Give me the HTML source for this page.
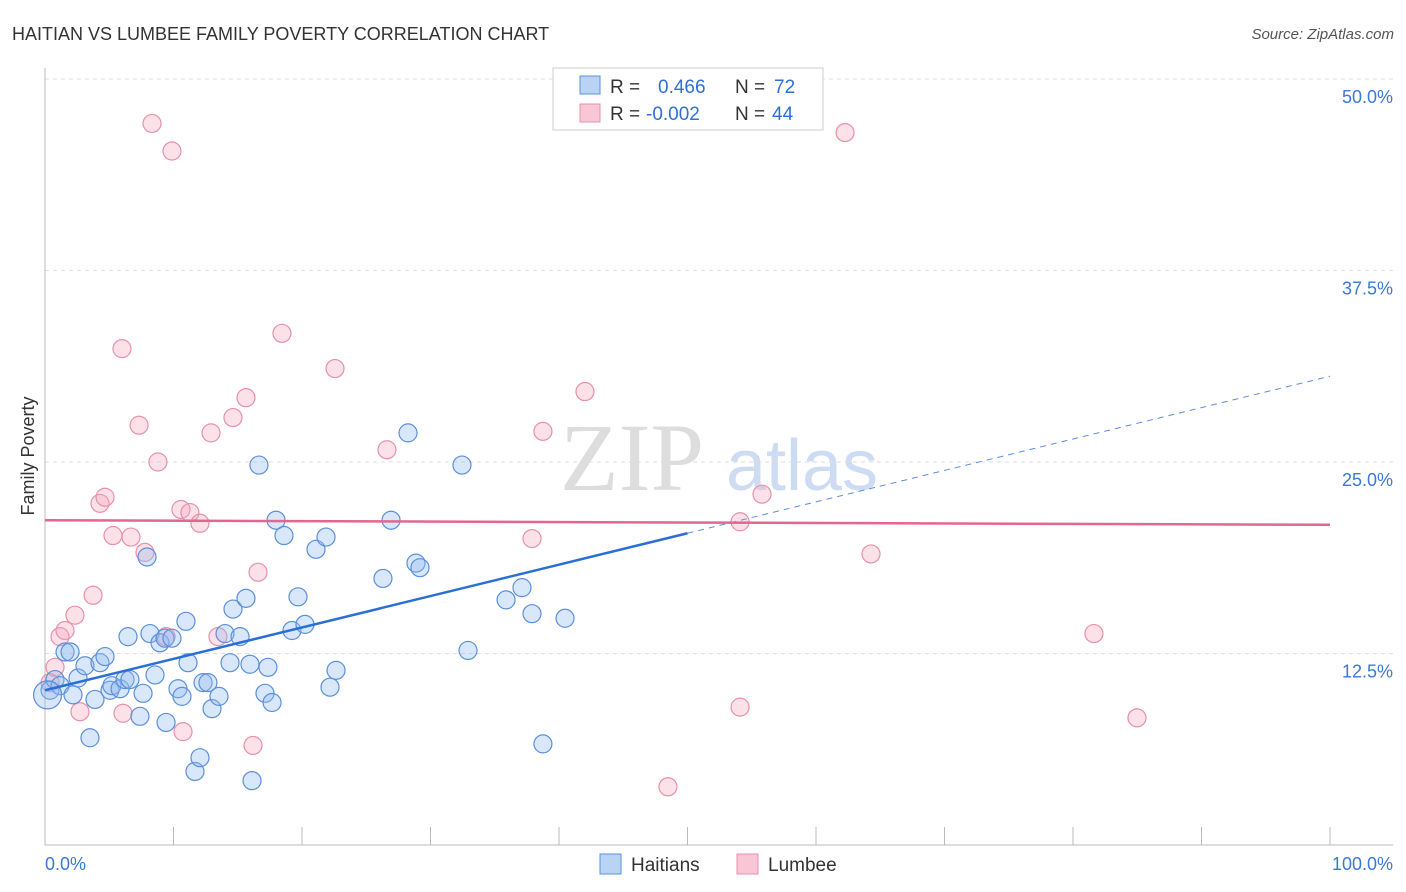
<!DOCTYPE html>
<html><head><meta charset="utf-8">
<style>
body{margin:0;background:#fff;font-family:"Liberation Sans",sans-serif;}
svg{display:block}
</style></head>
<body>
<svg id="chart" width="1406" height="892">
<text x="12" y="40" font-size="18" fill="#333">HAITIAN VS LUMBEE FAMILY POVERTY CORRELATION CHART</text>
<text x="1394" y="39" font-size="15" fill="#555" font-style="italic" text-anchor="end">Source: ZipAtlas.com</text>
<text x="632" y="490" font-size="96" fill="#ddd" font-family="Liberation Serif,serif" text-anchor="middle">ZIP</text>
<text x="802" y="490" font-size="72" fill="#cddcf2" text-anchor="middle">atlas</text>
<text transform="translate(34,456) rotate(-90)" font-size="18" fill="#333" text-anchor="middle">Family Poverty</text>
<g id="grid"></g>
<g id="marks"></g>
<g>
<rect x="553" y="68" width="270" height="62" fill="#fff" stroke="#ccc"/>
<rect x="580" y="76" width="20" height="18" fill="#b9d3f5" stroke="#5b8fdc"/>
<rect x="580" y="104" width="20" height="18" fill="#f9c6d6" stroke="#e890ac"/>
<text x="610" y="93" font-size="19" fill="#333">R = <tspan x="658" fill="#2f6fd6">0.466</tspan><tspan x="735">N = </tspan><tspan x="774" fill="#2f6fd6">72</tspan></text>
<text x="610" y="120" font-size="19" fill="#333">R = <tspan x="646" fill="#2f6fd6">-0.002</tspan><tspan x="735">N = </tspan><tspan x="772" fill="#2f6fd6">44</tspan></text>
</g>
<g>
<rect x="600" y="854" width="21" height="20" fill="#b9d3f5" stroke="#5b8fdc"/>
<text x="631" y="871" font-size="19" fill="#333">Haitians</text>
<rect x="737" y="854" width="21" height="20" fill="#f9c6d6" stroke="#e890ac"/>
<text x="768" y="871" font-size="19" fill="#333">Lumbee</text>
</g>
</svg>
<script>
const blueX=[0.39,0.78,1.17,1.56,1.95,2.18,2.57,3.11,3.89,3.50,4.28,4.67,5.06,5.21,5.84,6.23,6.46,6.61,7.39,7.63,7.94,8.17,8.56,8.95,9.34,9.88,9.42,10.35,10.66,10.97,11.13,11.67,12.06,12.30,12.68,13.00,13.54,14.01,14.40,14.63,15.18,15.64,15.95,16.11,16.65,17.12,17.35,17.67,17.98,18.60,19.22,19.69,20.23,21.09,21.87,22.18,22.65,26.30,26.93,28.25,28.87,29.18,32.45,32.92,35.88,37.12,37.90,38.75,40.47,0.2];
const blueY=[10.1,10.8,10.4,12.6,12.6,9.8,10.9,11.7,9.5,7.0,11.9,12.3,10.1,10.4,10.2,10.8,13.6,10.8,8.4,9.9,18.8,13.8,11.1,13.2,13.5,13.5,8.0,10.2,9.7,14.6,11.9,4.8,5.7,10.6,10.6,8.9,9.7,13.8,11.9,15.4,13.6,16.1,11.8,4.2,24.8,9.9,11.6,9.3,21.2,20.2,14.0,16.2,14.4,19.3,20.1,10.3,11.4,17.4,21.2,26.9,18.4,18.1,24.8,12.7,16.0,16.8,15.1,6.6,14.8,9.8];
const pinkX=[0.39,0.78,1.17,1.56,2.33,2.72,3.74,4.28,4.67,5.29,5.99,6.07,6.69,7.32,7.78,8.33,8.79,9.42,9.88,10.58,10.74,11.28,12.06,12.92,13.46,14.63,15.64,16.19,16.58,18.44,22.57,26.61,37.90,38.75,42.02,48.48,54.09,54.09,55.80,62.26,64.28,81.63,84.98];
const pinkY=[10.6,11.6,13.6,14.0,15.0,8.7,16.3,22.3,22.7,20.2,32.4,8.6,20.1,27.4,19.1,47.1,25.0,13.6,45.3,21.9,7.4,21.7,21.0,26.9,13.6,27.9,29.2,6.5,17.8,33.4,31.1,25.8,20.0,27.0,29.6,3.8,9.0,21.1,22.9,46.5,19.0,13.8,8.3];
const yTicks=[12.5,25.0,37.5,50.0];
const xTicks=[0,10,20,30,40,50,60,70,80,90,100];
const blueTrend=[10.1,30.6];
const pinkTrend=[21.2,20.9];
const blueSolidEnd=50;

const NS="http://www.w3.org/2000/svg";
const X=v=>45+v*12.85, Y=v=>845-v*15.32;
function mk(tag,attrs,parent){const e=document.createElementNS(NS,tag);for(const k in attrs)e.setAttribute(k,attrs[k]);parent.appendChild(e);return e;}
const grid=document.getElementById('grid'), marks=document.getElementById('marks');
yTicks.forEach(t=>{
  const l=mk('line',{x1:45,x2:1393,y1:Y(t),y2:Y(t),stroke:'#ddd','stroke-dasharray':'4,4'},grid);
  
  
  const tx=mk('text',{x:1393,y:Y(t)+24,'font-size':18,fill:'#3b78d8','text-anchor':'end'},grid);
  tx.textContent=t.toFixed(1)+'%';
  
  
});
const ax=mk('line',{x1:45,x2:1393,y1:845,y2:845,stroke:'#bbb'},grid);


const ay=mk('line',{x1:45,x2:45,y1:68,y2:845,stroke:'#bbb'},grid);


xTicks.forEach(t=>{
  const l=mk('line',{x1:X(t),x2:X(t),y1:827,y2:845,stroke:'#bbb'},grid);
  
  
});
[[0,'0.0%','start',45],[100,'100.0%','end',1393]].forEach(a=>{
  const tx=mk('text',{x:a[3],y:870,'font-size':18,fill:'#3b78d8','text-anchor':a[2]},grid);
  tx.textContent=a[1];
  
  
});
pinkX.forEach((x,i)=>{
  const c=mk('circle',{cx:X(x),cy:Y(pinkY[i]),r:9,fill:'rgba(246,168,192,0.35)',stroke:'#e890ac','stroke-width':1.2},marks);
  
  
});
blueX.forEach((x,i)=>{
  const c=mk('circle',{cx:X(x),cy:Y(blueY[i]),r:i==blueX.length-1?14:9,fill:'rgba(147,187,240,0.35)',stroke:'#5b8fdc','stroke-width':1.2},marks);
  
  
});
const bt=x=>blueTrend[0]+(blueTrend[1]-blueTrend[0])*x/100;
const l1=mk('line',{x1:X(0),y1:Y(bt(0)),x2:X(blueSolidEnd),y2:Y(bt(blueSolidEnd)),stroke:'#2a6fd6','stroke-width':2.5},marks);


const l2=mk('line',{x1:X(blueSolidEnd),y1:Y(bt(blueSolidEnd)),x2:X(100),y2:Y(bt(100)),stroke:'#5b8fdc','stroke-width':1,'stroke-dasharray':'6,5'},marks);


const l3=mk('line',{x1:X(0),y1:Y(pinkTrend[0]),x2:X(100),y2:Y(pinkTrend[1]),stroke:'#e4668f','stroke-width':2.5},marks);


</script>
</body></html>
